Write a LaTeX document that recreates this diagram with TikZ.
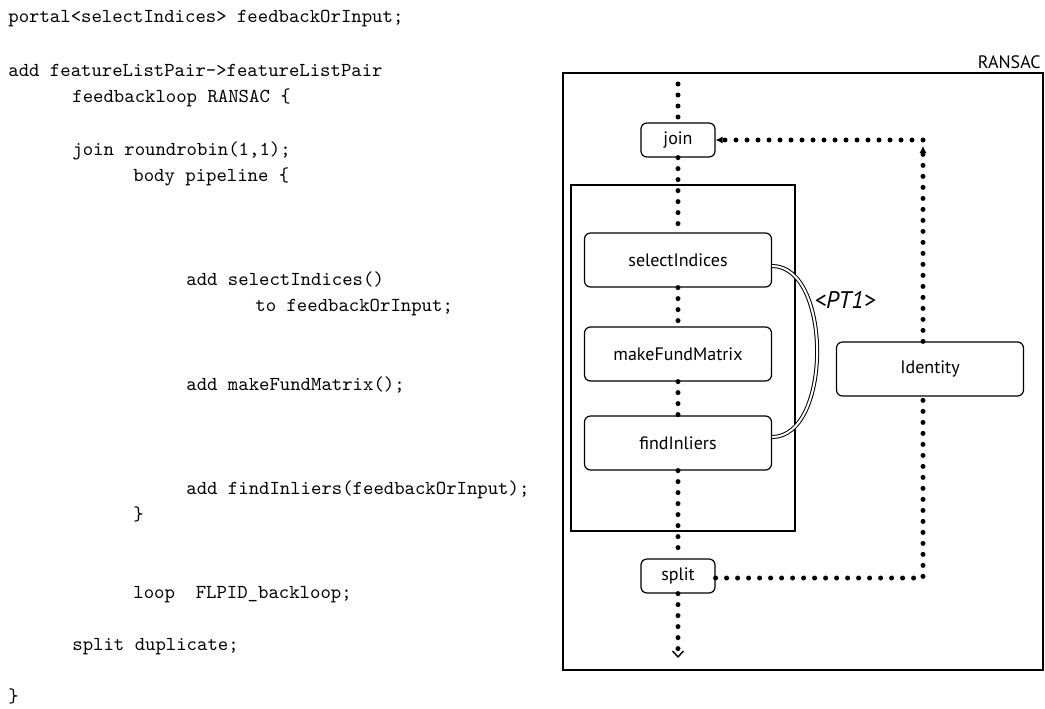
\documentclass[tikz,border=0pt]{standalone}
\usepackage{fontspec}
\setsansfont{PT Sans}
\usepackage{tikz}
\usetikzlibrary{arrows.meta}

\newcommand{\codefont}{\ttfamily\fontsize{9.9}{12}\selectfont}
\newcommand{\labelfont}{\sffamily\fontsize{9}{11}\selectfont}

\begin{document}
\begin{tikzpicture}[x=0.5pt,y=-0.5pt,
  code/.style={anchor=base west,inner sep=0pt,font=\codefont},
  filt/.style={draw,line width=0.6pt,rounded corners=3pt,minimum width=93.5pt,minimum height=27pt,inner sep=0pt,font=\labelfont},
  smallfilt/.style={filt,minimum width=37pt,minimum height=17pt},
  chan/.style={line width=2.5pt,line cap=round,dash pattern=on 0pt off 5.5pt},
  fbtip/.style={-{Latex[length=3.5pt,width=3.5pt,line width=0.5pt]}},
  outtip/.style={-{Straight Barb[length=3pt,width=5.5pt,line width=0.7pt]}}]
\useasboundingbox (0,0) rectangle (1045,708);

% Code:
\node [code] (c1)  at (8,22)   {portal<selectIndices> feedbackOrInput;};
\node [code] (c2)  at (8,76)   {add featureListPair->featureListPair};
\node [code] (c3)  at (72,102) {feedbackloop RANSAC \{};
\node [code] (c4)  at (72,155) {join roundrobin(1,1);};
\node [code] (c5)  at (133,181) {body pipeline \{};
\node [code] (c6)  at (186,285) {add selectIndices()};
\node [code] (c7)  at (255,311) {to feedbackOrInput;};
\node [code] (c8)  at (186,390) {add makeFundMatrix();};
\node [code] (c9)  at (186,494) {add findInliers(feedbackOrInput);};
\node [code] (c10) at (133,520) {\}};
\node [code] (c11) at (133,598) {loop\ \ FLPID\_backloop;};
\node [code] (c12) at (72,650) {split duplicate;};
\node [code] (c13) at (8,702)  {\}};

% Boxes:
\draw [line width=0.8pt] (563,73) rectangle (1043,670);
\node [anchor=south east, inner sep=0pt, font=\labelfont] (ransac) at (1041,69) {RANSAC};
\draw [line width=0.7pt] (571,185) rectangle (795,531);

% Filters
\node [smallfilt] (join) at (678,140) {join};
\node [filt] (sel) at (678,260) {selectIndices};
\node [filt] (mfm) at (678,354) {makeFundMatrix};
\node [filt] (fin) at (678,443) {findInliers};
\node [filt] (idn) at (930,369) {Identity};
\node [smallfilt] (split) at (678,576) {split};

% Channels
\coordinate (in)    at (678,84);
\coordinate (out)   at (678,658);
\coordinate (fbtop) at (923,140);
\coordinate (fbbot) at (923,578);
\coordinate (fbend) at (923,146);

\draw [chan] (in) -- (join);
\draw [chan] (join) -- (sel);
\draw [chan] (sel) -- (mfm);
\draw [chan] (mfm) -- (fin);
\draw [chan] (fin) -- (split);
\draw [chan,outtip] (split) -- (out);

\draw [chan] (split.east |- fbbot) -- (fbbot) -- (fbbot |- idn.south);
\draw [chan,fbtip] (fbbot |- idn.north) -- (fbend);
\draw [chan,fbtip] (fbtop) -- (join);

% Portal
\draw [line width=0.5pt, double, double distance=1pt]
 ([yshift=-3pt]sel.east) to [out=0, in=0, looseness=0.9] ([yshift=3pt]fin.east);
\node [font=\sffamily\itshape\fontsize{12}{14}\selectfont, inner sep=0pt] (pt1) at (845,300) {<PT1>};

\end{tikzpicture}
\end{document}
